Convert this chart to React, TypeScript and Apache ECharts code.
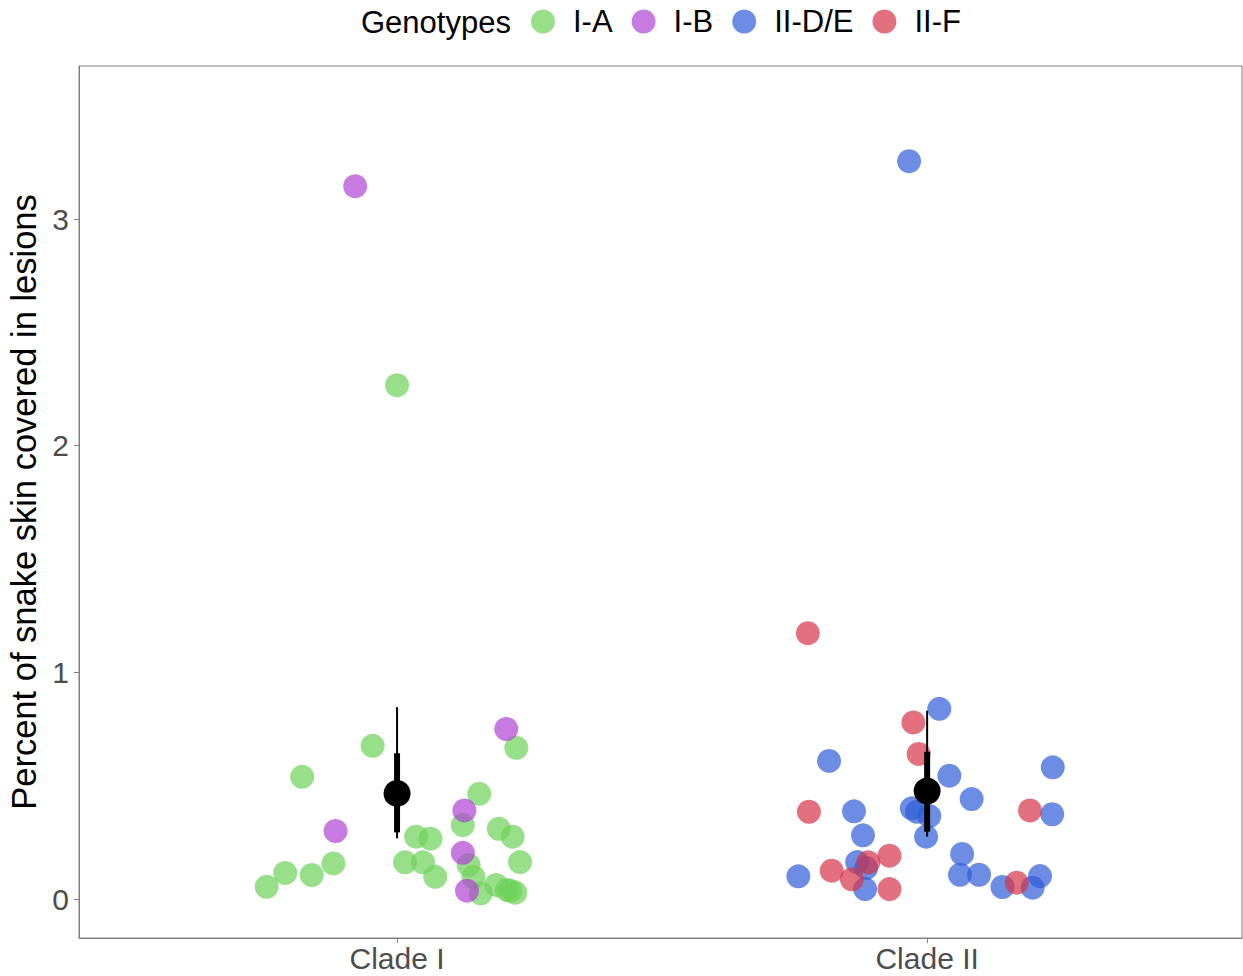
import React, { useEffect, useRef } from "react";
import * as echarts from "echarts";

const categories = ["Clade I", "Clade II"];
const genotypes = ["I-A", "I-B", "II-D/E", "II-F"];
const colors = ["#6cd158", "#af42d3", "#2d5cd7", "#d73348"];
const yTicks = [0, 1, 2, 3];

// jittered x positions (1 = Clade I, 2 = Clade II) and lesion percentages
const iaX = [1.0, 0.954, 0.821, 0.88, 0.789, 0.839, 0.754, 1.036, 1.063, 1.015, 1.049, 1.072, 1.155, 1.124, 1.192, 1.218, 1.232, 1.135, 1.144, 1.158, 1.187, 1.207, 1.223, 1.214, 1.225];
const iaY = [2.267, 0.676, 0.539, 0.157, 0.115, 0.106, 0.054, 0.275, 0.266, 0.162, 0.162, 0.098, 0.464, 0.326, 0.31, 0.275, 0.163, 0.15, 0.098, 0.025, 0.062, 0.04, 0.028, 0.037, 0.667];
const ibX = [0.921, 1.206, 1.127, 0.884, 1.124, 1.132];
const ibY = [3.145, 0.75, 0.391, 0.3, 0.204, 0.037];
const deX = [1.966, 2.023, 1.815, 2.042, 2.084, 2.237, 2.236, 1.862, 1.879, 1.971, 1.981, 2.004, 1.998, 1.757, 1.868, 1.885, 1.883, 2.066, 2.062, 2.098, 2.142, 2.199, 2.213];
const deY = [3.255, 0.839, 0.609, 0.544, 0.441, 0.581, 0.374, 0.387, 0.281, 0.4, 0.385, 0.366, 0.275, 0.1, 0.163, 0.137, 0.044, 0.199, 0.107, 0.107, 0.053, 0.05, 0.101];
const fX = [1.775, 1.974, 1.984, 1.777, 2.194, 1.82, 1.858, 1.889, 1.929, 1.929, 2.169];
const fY = [1.173, 0.779, 0.64, 0.385, 0.391, 0.125, 0.087, 0.162, 0.191, 0.044, 0.072];

// summary: mean, outer interval, inner interval
const meanX = [1, 2];
const meanY = [0.466, 0.476];
const outerLo = [0.268, 0.275];
const outerHi = [0.846, 0.831];
const innerLo = [0.294, 0.297];
const innerHi = [0.643, 0.65];

const groupsX = [iaX, ibX, deX, fX];
const groupsY = [iaY, ibY, deY, fY];

export default function App() {
  const ref = useRef<HTMLDivElement>(null);
  useEffect(() => {
    const chart = echarts.init(ref.current!, null, { renderer: "svg" });
    const font = "Liberation Sans, Arial, Helvetica, sans-serif";
    const axisColor = "#7f7f7f";
    const scatterSeries = genotypes.map((g, i) => ({
      name: g,
      type: "scatter",
      symbol: "circle",
      symbolSize: 24,
      itemStyle: { color: colors[i], opacity: 0.7 },
      data: groupsX[i].map((x, j) => [x, groupsY[i][j]]),
      z: 2,
    }));
    const summaryData = meanX.map((x, i) => [x, meanY[i], outerLo[i], outerHi[i], innerLo[i], innerHi[i]]);
    chart.setOption({
      animation: false,
      grid: {
        left: 79,
        right: 1,
        top: 66,
        bottom: 38,
        show: true,
        borderColor: axisColor,
        borderWidth: 1,
        outerBoundsMode: "none",
        containLabel: false,
      },
      legend: {
        data: genotypes,
        left: 526,
        top: 1,
        icon: "circle",
        itemWidth: 24,
        itemHeight: 24,
        itemGap: 19,
        textStyle: { fontSize: 31, color: "#000", fontFamily: font, padding: [0, 0, 0, 13] },
      },
      graphic: [
        {
          type: "text",
          left: 361,
          top: 7,
          style: { text: "Genotypes", fontSize: 31, fill: "#000", fontFamily: font },
        },
      ],
      xAxis: {
        type: "value",
        min: 0.4,
        max: 2.594,
        splitLine: { show: false },
        axisLine: { show: true, onZero: false, lineStyle: { color: axisColor } },
        axisTick: { show: true, customValues: [1, 2], length: 5, lineStyle: { color: axisColor } },
        axisLabel: {
          customValues: [1, 2],
          formatter: (v: number) => categories[Math.round(v) - 1] ?? "",
          fontSize: 30,
          color: "#4d4d4d",
          fontFamily: font,
          margin: 5,
        },
      },
      yAxis: {
        type: "value",
        min: -0.172,
        max: 3.675,
        name: "Percent of snake skin covered in lesions",
        nameLocation: "middle",
        nameGap: 33,
        nameTextStyle: { fontSize: 34.5, color: "#000", fontFamily: font },
        splitLine: { show: false },
        axisLine: { show: true, onZero: false, lineStyle: { color: axisColor } },
        axisTick: { show: true, customValues: yTicks, length: 5, lineStyle: { color: axisColor } },
        axisLabel: {
          customValues: yTicks,
          fontSize: 30,
          color: "#4d4d4d",
          fontFamily: font,
          margin: 10,
        },
      },
      series: [
        ...scatterSeries,
        {
          type: "custom",
          z: 5,
          silent: true,
          data: summaryData,
          renderItem: (params: any, api: any) => {
            const x = api.value(0);
            const pMean = api.coord([x, api.value(1)]);
            const pOLo = api.coord([x, api.value(2)]);
            const pOHi = api.coord([x, api.value(3)]);
            const pILo = api.coord([x, api.value(4)]);
            const pIHi = api.coord([x, api.value(5)]);
            return {
              type: "group",
              children: [
                { type: "line", shape: { x1: pOLo[0], y1: pOLo[1], x2: pOHi[0], y2: pOHi[1] }, style: { stroke: "#000", lineWidth: 2 } },
                { type: "line", shape: { x1: pILo[0], y1: pILo[1], x2: pIHi[0], y2: pIHi[1] }, style: { stroke: "#000", lineWidth: 6 } },
                { type: "circle", shape: { cx: pMean[0], cy: pMean[1], r: 13.5 }, style: { fill: "#000" } },
              ],
            };
          },
        },
      ],
    });
    return () => chart.dispose();
  }, []);
  return <div ref={ref} style={{ position: "fixed", left: 0, top: 0, width: 1243, height: 976, background: "#fff" }} />;
}
